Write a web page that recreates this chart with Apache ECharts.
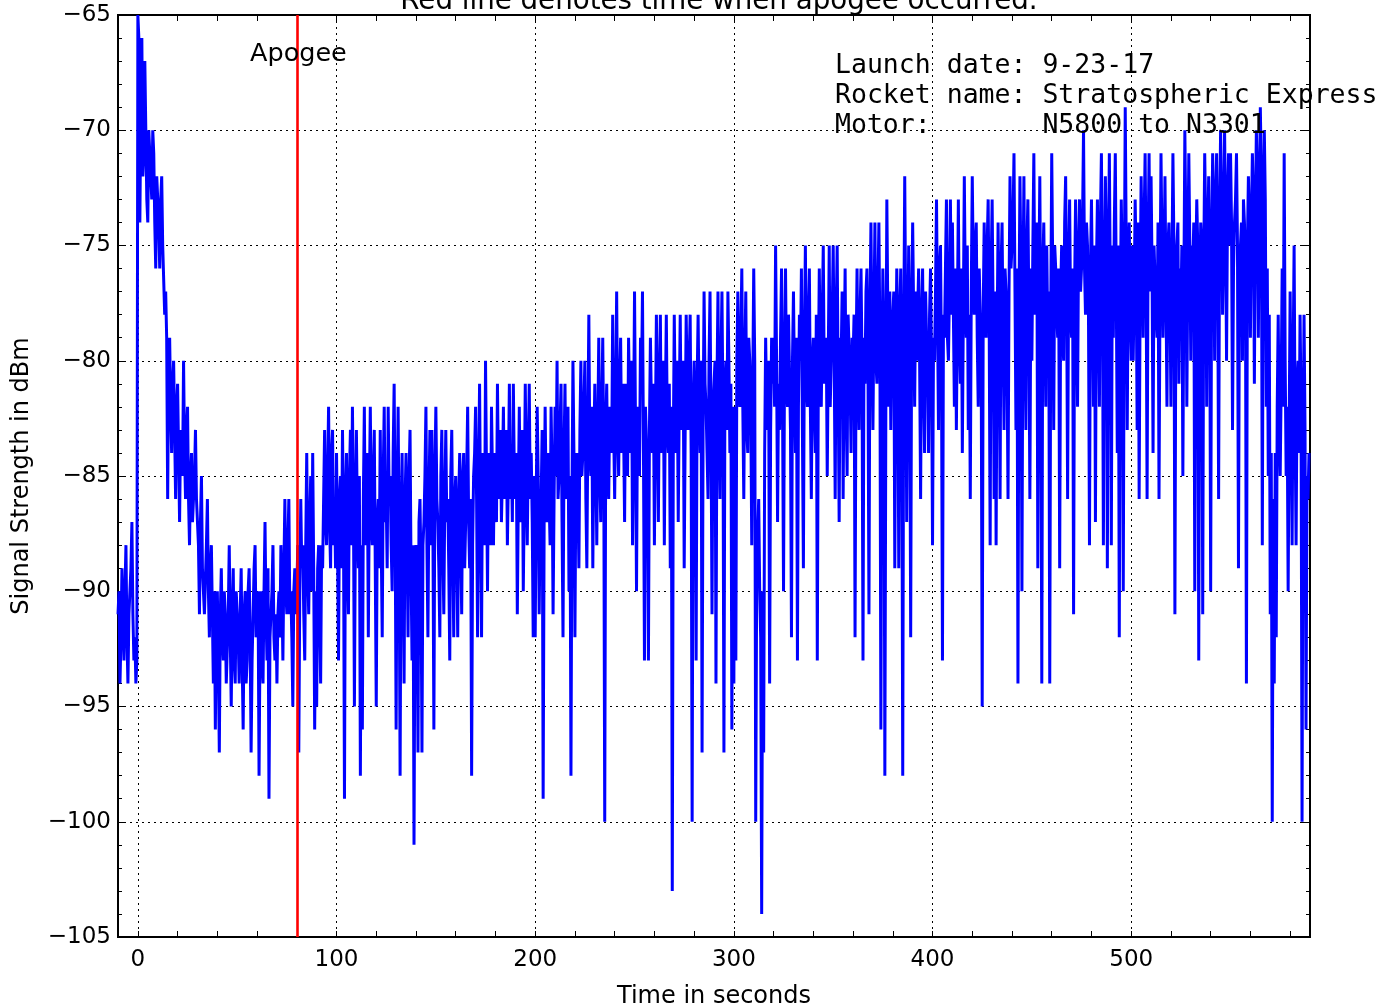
<!DOCTYPE html>
<html>
<head>
<meta charset="utf-8">
<script src="https://cdn.jsdelivr.net/npm/echarts@6/dist/echarts.min.js"></script>
<style>
html,body{margin:0;padding:0;background:#fff;}
#chart{width:1394px;height:1008px;}
</style>
</head>
<body>
<div id="chart"></div>
<script>
// ---- data ----
const tStart = -10;   // time of first sample, seconds
const tStep = 0.5;    // sampling step, seconds
const signal = [
  -91,-90,-94,-92,-89,-91,-93,-90,-88,-92,-94,-91,-90,-89,-87,-91,-93,-92,-94,-93,
  -65,-66,-74,-69,-66,-72,-71,-67,-67,-73,-74,-70,-70,-72,-73,-70,-71,-74,-76,-72,
  -72,-74,-76,-73,-72,-75,-75,-78,-77,-79,-86,-80,-79,-82,-84,-81,-80,-83,-86,-82,
  -81,-84,-87,-83,-83,-85,-80,-84,-86,-83,-82,-86,-88,-85,-84,-87,-87,-85,-83,-86,
  -86,-88,-91,-87,-85,-89,-89,-91,-91,-88,-86,-90,-92,-89,-88,-91,-94,-90,-96,-91,
  -90,-93,-97,-91,-89,-92,-93,-90,-91,-94,-94,-91,-88,-92,-95,-91,-89,-93,-94,-90,
  -90,-92,-94,-91,-89,-93,-96,-91,-90,-94,-93,-90,-89,-92,-97,-93,-91,-89,-88,-92,
  -92,-90,-98,-92,-90,-93,-94,-90,-87,-91,-93,-89,-99,-92,-91,-90,-88,-92,-93,-91,
  -94,-91,-90,-92,-88,-90,-93,-89,-86,-90,-91,-88,-86,-91,-90,-92,-95,-90,-89,-91,
  -90,-88,-97,-90,-86,-89,-88,-91,-93,-88,-84,-89,-91,-87,-85,-90,-84,-89,-96,-90,
  -95,-89,-88,-91,-94,-88,-89,-86,-83,-87,-88,-85,-82,-87,-89,-84,-83,-88,-86,-89,
  -84,-88,-93,-86,-85,-89,-83,-87,-99,-86,-84,-89,-91,-85,-83,-88,-82,-86,-95,-87,
  -83,-87,-89,-85,-98,-88,-96,-86,-82,-88,-87,-84,-92,-86,-82,-87,-88,-85,-83,-89,
  -95,-87,-86,-89,-83,-88,-92,-85,-82,-87,-86,-89,-82,-86,-85,-88,-90,-84,-81,-87,
  -96,-86,-82,-88,-98,-87,-84,-89,-94,-86,-84,-88,-92,-85,-83,-89,-93,-88,-101,-90,
  -88,-90,-97,-87,-86,-89,-97,-88,-87,-85,-82,-88,-92,-86,-83,-88,-83,-87,-96,-85,
  -82,-86,-87,-89,-92,-85,-83,-88,-91,-86,-83,-87,-86,-89,-93,-85,-83,-88,-92,-86,
  -85,-88,-92,-86,-84,-88,-91,-85,-84,-89,-87,-85,-82,-87,-89,-86,-98,-88,-85,-84,
  -82,-86,-92,-85,-81,-87,-92,-84,-84,-88,-80,-85,-90,-84,-86,-88,-82,-85,-88,-84,
  -84,-87,-81,-85,-86,-83,-87,-85,-82,-86,-85,-83,-88,-85,-81,-86,-84,-87,-81,-85,
  -86,-84,-91,-86,-82,-87,-85,-83,-90,-86,-81,-85,-88,-84,-81,-86,-84,-87,-92,-85,
  -92,-86,-82,-85,-91,-87,-86,-83,-99,-87,-82,-86,-87,-84,-84,-88,-82,-85,-91,-86,
  -82,-85,-80,-86,-85,-83,-81,-87,-92,-84,-81,-86,-84,-82,-90,-85,-98,-86,-80,-84,
  -92,-85,-84,-86,-89,-83,-80,-85,-84,-82,-80,-86,-89,-83,-78,-84,-85,-82,-89,-84,
  -81,-84,-88,-83,-79,-85,-87,-82,-79,-84,-100,-83,-81,-85,-86,-82,-82,-84,-78,-83,
  -86,-82,-77,-83,-85,-81,-79,-84,-81,-83,-87,-81,-82,-85,-79,-82,-84,-80,-88,-83,
  -77,-83,-90,-82,-82,-85,-79,-81,-77,-84,-93,-82,-82,-85,-93,-83,-79,-82,-84,-81,
  -88,-83,-78,-82,-87,-81,-78,-84,-83,-80,-88,-82,-78,-83,-84,-81,-89,-82,-103,-84,
  -78,-82,-84,-80,-87,-82,-78,-83,-82,-80,-89,-83,-78,-81,-83,-80,-78,-84,-100,-82,
  -80,-83,-93,-81,-78,-82,-84,-80,-97,-83,-77,-81,-82,-84,-86,-80,-77,-83,-91,-82,
  -82,-80,-94,-81,-77,-83,-86,-80,-77,-82,-97,-81,-80,-83,-77,-80,-84,-81,-96,-82,
  -94,-82,-93,-80,-77,-81,-82,-79,-76,-82,-86,-80,-77,-83,-84,-79,-80,-82,-88,-81,
  -76,-80,-100,-89,-89,-86,-90,-92,-104,-90,-97,-84,-79,-82,-83,-80,-94,-83,-79,-81,
  -79,-82,-75,-80,-87,-81,-83,-79,-76,-82,-90,-80,-76,-81,-82,-78,-78,-83,-92,-80,
  -77,-81,-84,-79,-93,-82,-78,-80,-76,-83,-89,-79,-75,-81,-82,-78,-76,-82,-86,-80,
  -79,-82,-84,-78,-93,-81,-76,-80,-82,-78,-75,-81,-81,-79,-85,-80,-75,-82,-80,-78,
  -75,-80,-86,-78,-75,-81,-87,-79,-80,-77,-86,-80,-76,-82,-85,-78,-78,-81,-84,-79,
  -80,-78,-92,-80,-76,-81,-83,-78,-76,-80,-93,-79,-81,-77,-76,-80,-91,-78,-74,-79,
  -83,-78,-74,-80,-81,-77,-74,-79,-96,-81,-76,-79,-98,-82,-73,-78,-82,-77,-83,-79,
  -79,-77,-89,-80,-76,-79,-89,-78,-76,-81,-98,-79,-72,-78,-87,-80,-75,-79,-92,-78,
  -74,-78,-82,-77,-80,-78,-76,-80,-86,-78,-76,-81,-84,-77,-79,-80,-84,-78,-76,-80,
  -88,-79,-80,-77,-73,-78,-83,-76,-75,-80,-93,-78,-79,-76,-73,-79,-80,-77,-73,-78,
  -74,-78,-82,-76,-83,-78,-73,-79,-81,-76,-84,-78,-72,-77,-79,-75,-83,-78,-86,-77,
  -72,-76,-78,-75,-74,-79,-82,-76,-76,-80,-95,-78,-74,-77,-79,-75,-73,-78,-88,-76,
  -73,-78,-86,-77,-88,-79,-74,-78,-86,-76,-74,-79,-83,-76,-77,-80,-86,-77,-72,-76,
  -76,-74,-71,-77,-83,-76,-94,-78,-72,-76,-90,-77,-72,-79,-83,-75,-73,-78,-86,-76,
  -80,-75,-71,-78,-77,-74,-89,-77,-72,-79,-94,-76,-74,-78,-82,-75,-79,-77,-94,-78,
  -71,-76,-83,-75,-76,-78,-79,-76,-89,-77,-75,-79,-80,-74,-72,-77,-86,-76,-73,-78,
  -79,-76,-91,-77,-73,-78,-82,-75,-73,-77,-76,-74,-70,-76,-78,-74,-75,-78,-88,-76,
  -73,-77,-82,-75,-87,-76,-73,-78,-82,-74,-71,-76,-88,-77,-72,-75,-89,-76,-71,-77,
  -88,-75,-79,-74,-71,-77,-84,-75,-92,-78,-73,-76,-90,-77,-69,-75,-83,-76,-74,-78,
  -80,-75,-80,-77,-73,-76,-83,-74,-86,-77,-72,-75,-79,-74,-71,-76,-86,-75,-71,-77,
  -72,-76,-84,-75,-75,-78,-79,-74,-86,-77,-71,-75,-79,-76,-72,-77,-82,-75,-74,-77,
  -82,-76,-71,-75,-91,-77,-75,-74,-81,-76,-78,-75,-85,-77,-70,-74,-82,-76,-71,-75,
  -80,-75,-76,-74,-90,-76,-73,-75,-93,-77,-74,-75,-91,-76,-71,-74,-82,-75,-72,-76,
  -90,-75,-71,-74,-80,-73,-71,-75,-86,-74,-70,-73,-78,-75,-70,-74,-80,-73,-71,-75,
  -71,-74,-83,-76,-74,-73,-71,-75,-89,-76,-75,-74,-80,-73,-74,-76,-94,-75,-72,-74,
  -79,-74,-71,-73,-81,-74,-70,-72,-79,-73,-69,-72,-88,-74,-70,-73,-82,-76,-85,-78,
  -91,-84,-100,-86,-94,-84,-92,-82,-78,-83,-85,-81,-76,-82,-71,-80,-85,-82,-90,-83,
  -77,-82,-88,-80,-75,-83,-88,-81,-80,-84,-78,-82,-100,-84,-78,-83,-96,-85,-86,-84
];
const apogeeTime = 80;
const xRange = [-10, 590];
const yRange = [-105, -65];
const xLabelValues = [0, 100, 200, 300, 400, 500];
const xTickValues = [0,20,40,60,80,100,120,140,160,180,200,220,240,260,280,300,320,340,360,380,400,420,440,460,480,500,520,540,560,580];
const titleText = 'Red line denotes time when apogee occurred.';
const xName = 'Time in seconds';
const yName = 'Signal Strength in dBm';
const apogeeText = 'Apogee';
const infoLines = ['Launch date: 9-23-17', 'Rocket name: Stratospheric Express', 'Motor:       N5800 to N3301'];

// ---- chart ----
const chart = echarts.init(document.getElementById('chart'), null, {renderer: 'canvas'});
const FONT = '"DejaVu Sans", sans-serif';
const MONO = '"DejaVu Sans Mono", monospace';
const gridStyle = {color: '#000', width: 1, type: [2, 4]};
const minus = v => String(v).replace('-', '\u2212');
const tickStyle = {color: '#000', width: 1};

const xBase = {
  type: 'value', min: xRange[0], max: xRange[1],
  axisLine: {show: false, onZero: false},
  splitLine: {show: false}
};
const yBase = {
  type: 'value', min: yRange[0], max: yRange[1], interval: 5,
  axisLine: {show: false, onZero: false}
};

chart.setOption({
  animation: false,
  backgroundColor: '#fff',
  title: {
    text: titleText, left: 714, top: -17, textAlign: 'center',
    textStyle: {fontFamily: FONT, fontSize: 27.7, fontWeight: 'normal', color: '#000'}
  },
  grid: {left: 118, top: 15, width: 1192, height: 922, containLabel: false, outerBoundsMode: 'none',
         show: true, borderColor: '#000', borderWidth: 2, backgroundColor: 'transparent'},
  xAxis: [
    Object.assign({}, xBase, {
      position: 'bottom',
      name: xName, nameLocation: 'middle', nameGap: 48,
      nameTextStyle: {fontFamily: FONT, fontSize: 24, color: '#000'},
      axisTick: {show: true, inside: true, length: 6, lineStyle: tickStyle, customValues: xTickValues},
      axisLabel: {show: true, margin: 12, fontFamily: FONT, fontSize: 23, color: '#000', customValues: xLabelValues, formatter: minus}
    }),
    Object.assign({}, xBase, {
      position: 'top',
      axisTick: {show: true, inside: true, length: 6, lineStyle: tickStyle, customValues: xTickValues},
      axisLabel: {show: false}
    }),
    Object.assign({}, xBase, {
      position: 'bottom',
      axisTick: {show: false, customValues: xLabelValues},
      axisLabel: {show: false},
      splitLine: {show: true, lineStyle: gridStyle}
    })
  ],
  yAxis: [
    Object.assign({}, yBase, {
      position: 'left',
      name: yName, nameLocation: 'middle', nameGap: 84, nameRotate: 90,
      nameTextStyle: {fontFamily: FONT, fontSize: 24, color: '#000'},
      axisTick: {show: true, inside: true, length: 8, lineStyle: tickStyle},
      minorTick: {show: true, splitNumber: 5, length: 4, lineStyle: tickStyle},
      axisLabel: {show: true, margin: 7, fontFamily: FONT, fontSize: 23, color: '#000', formatter: minus},
      splitLine: {show: true, lineStyle: gridStyle}
    }),
    Object.assign({}, yBase, {
      position: 'right',
      axisTick: {show: true, inside: true, length: 8, lineStyle: tickStyle},
      minorTick: {show: true, splitNumber: 5, length: 4, lineStyle: tickStyle},
      axisLabel: {show: false},
      splitLine: {show: false}
    })
  ],
  series: [{
    type: 'line',
    xAxisIndex: 0, yAxisIndex: 0,
    data: signal.map((v, i) => [tStart + i * tStep, v]),
    symbol: 'none', showSymbol: false,
    clip: true,
    lineStyle: {color: '#0000ff', width: 3},
    itemStyle: {color: '#0000ff'},
    z: 3,
    markLine: {
      silent: true, symbol: ['none', 'none'], animation: false,
      label: {show: false},
      lineStyle: {color: '#ff0000', width: 2.6, type: 'solid'},
      emphasis: {disabled: true},
      data: [{xAxis: apogeeTime}]
    }
  }],
  graphic: [
    {type: 'text', left: 250, top: 41, z: 100,
     style: {text: apogeeText, fontFamily: FONT, fontSize: 25.5, fill: '#000'}},
    {type: 'text', left: 835, top: 51, z: 100,
     style: {text: infoLines.join('\n'), fontFamily: MONO, fontSize: 26.5, lineHeight: 30, fill: '#000'}}
  ]
});
</script>
</body>
</html>
